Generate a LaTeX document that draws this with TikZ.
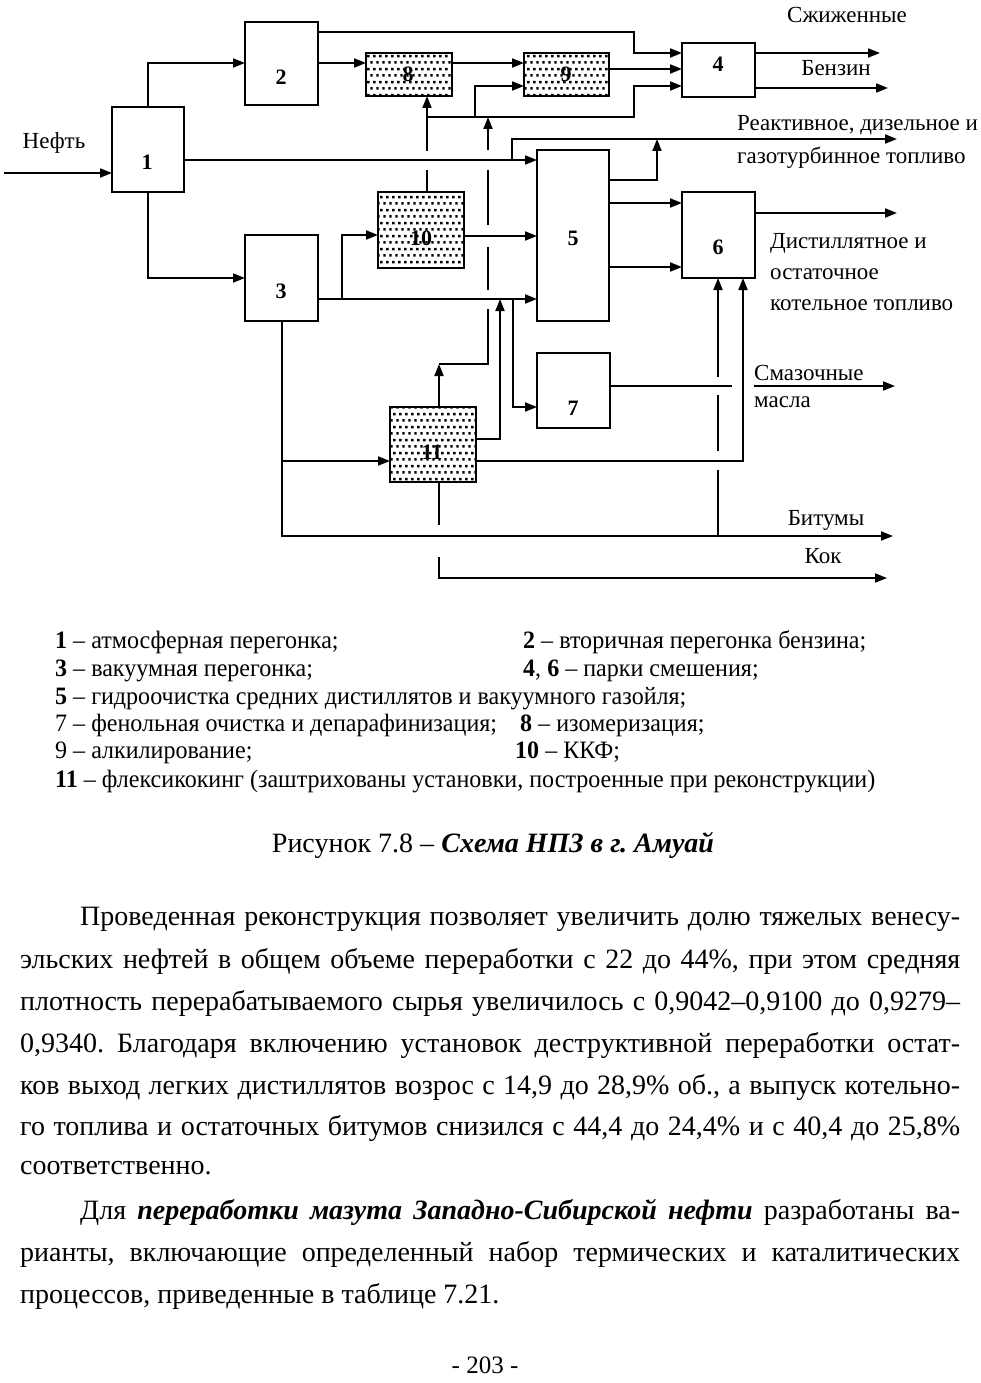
\documentclass[tikz,border=0pt]{standalone}
\usepackage{fontspec}
\setmainfont{Liberation Serif}
\newfontfamily\narrowserif[FakeStretch=0.962]{Liberation Serif}
\usetikzlibrary{arrows.meta,patterns}
\pgfdeclarepatternformonly{dotgrid}{\pgfpoint{0pt}{0pt}}{\pgfpoint{6.4pt}{12.8pt}}{\pgfpoint{6.4pt}{12.8pt}}{%
  \pgfpathrectangle{\pgfpoint{0.3pt}{0.3pt}}{\pgfpoint{2.5pt}{2.5pt}}%
  \pgfpathrectangle{\pgfpoint{3.5pt}{6.7pt}}{\pgfpoint{2.5pt}{2.5pt}}%
  \pgfusepath{fill}}
\tikzset{
  box/.style={draw, line width=1.8pt, inner sep=0pt, outer sep=0pt},
  sz/.style 2 args={minimum width=#1pt, minimum height=#2pt},
  dotted box/.style={box, pattern=dotgrid},
  ln/.style={line width=1.8pt},
  thinln/.style={line width=1.2pt},
  arr/.style={ln, -{Triangle[length=12pt,width=9pt]}},
  num/.style={font=\bfseries\fontsize{22}{22}\selectfont, inner sep=0pt},
  lbl/.style={font=\fontsize{23}{23}\selectfont, inner sep=0pt, anchor=west},
  lbc/.style={font=\fontsize{23}{23}\selectfont, inner sep=0pt},
  leg/.style={font=\narrowserif\fontsize{25}{25}\selectfont, inner sep=0pt, anchor=base west},
  bodyline/.style={font=\fontsize{28}{28}\selectfont, inner sep=0pt, anchor=base west},
}
\frenchspacing
\begin{document}
\begin{tikzpicture}[x=1pt,y=-1pt]
\useasboundingbox (0,0) rectangle (980,1383);
% boxes
\node[box, sz={72}{85}]  (b1) at (148,149.5) {};
\node[box, sz={73}{83}]  (b2) at (281.5,63.5) {};
\node[box, sz={73}{86}]  (b3) at (281.5,278) {};
\node[box, sz={73}{54}]  (b4) at (718.5,70) {};
\node[box, sz={72}{171}] (b5) at (573,235.5) {};
\node[box, sz={73}{86}]  (b6) at (718.5,235) {};
\node[box, sz={73}{75}]  (b7) at (573.5,390.5) {};
\node[dotted box, sz={86}{43}] (b8) at (409,74.5) {};
\node[dotted box, sz={85}{43}] (b9) at (566.5,74.5) {};
\node[dotted box, sz={86}{76}] (b10) at (421,230) {};
\node[dotted box, sz={86}{75}] (b11) at (433,444.5) {};
% numbers
\node[num] (n1) at (147,162) {1};
\node[num] (n2) at (281,77) {2};
\node[num] (n3) at (281,291) {3};
\node[num] (n4) at (718,64) {4};
\node[num] (n5) at (573,238) {5};
\node[num] (n6) at (718,247) {6};
\node[num] (n7) at (573,408) {7};
\node[num] (n8) at (408,74) {8};
\node[num] (n9) at (566,74) {9};
\node[num] (n10) at (421,238) {10};
\node[num] (n11) at (432,452) {11};
% free ends
\coordinate (neft) at (4,173);
\coordinate (oreakt) at (897,139);
\coordinate (ogas) at (880,53);
\coordinate (obenz) at (888,88);
\coordinate (odist) at (897,213);
\coordinate (olube) at (895,386);
\coordinate (obit) at (893,536);
\coordinate (okok) at (887,578);
% connectors
\draw[arr] (neft) -- (neft -| b1.west);
\draw[arr] (b1.north) |- (b2.west |- 0,63);
\draw[arr] (b1.south) |- (b3.west);
\draw[arr] (b1.east |- 0,160) -- (b5.west |- 0,160);
\draw[arr] (512,160) |- (oreakt);
\draw[arr] (b5.east |- 0,180) -| (657,139);
\draw[arr] (b5.east |- 0,203) -- (b6.west |- 0,203);
\draw[arr] (b5.east |- 0,267) -- (b6.west |- 0,267);
\draw[arr] (b6.east |- 0,213) -- (odist);
\draw[arr] (b4.east |- 0,53) -- (ogas);
\draw[arr] (b4.east |- 0,88) -- (obenz);
\draw[arr] (b2.east |- 0,32) -- (634,32) |- (b4.west |- 0,53);
\draw[arr] (b2.east |- 0,63) -- (b8.west |- 0,63);
\draw[arr] (b8.east |- 0,63) -- (b9.west |- 0,63);
\draw[arr] (b9.east |- 0,69) -- (b4.west |- 0,69);
\draw[arr] (427,117) -- (634,117) |- (b4.west |- 0,86);
\draw[ln] (427,0 |- b10.north) -- (427,170);
\draw[arr] (427,151) -- (427,0 |- b8.south);
\draw[arr] (475,117) |- (b9.west |- 0,86);
% line from 11 upwards with crossing gaps
\draw[arr] (439,0 |- b11.north) -- (439,364);
\draw[ln] (439,364) -- (488,364) -- (488,309);
\draw[ln] (488,290) -- (488,247);
\draw[ln] (488,225) -- (488,170);
\draw[arr] (488,150) -- (488,117);
% from 3
\draw[arr] (b3.east |- 0,299) -- (b5.west |- 0,299);
\draw[arr] (342,299) |- (b10.west |- 0,235);
\draw[arr] (b10.east |- 0,236) -- (b5.west |- 0,236);
\draw[arr] (282,0 |- b3.south) |- (obit);
\draw[arr] (282,461) -- (b11.west |- 0,461);
\draw[arr] (b11.east |- 0,439) -| (500,299);
\draw[arr] (513,299) |- (b7.west |- 0,407);
\draw[ln] (b7.east |- 0,386) -- (732,386);
\draw[arr] (754,386) -- (olube);
\draw[arr] (b11.east |- 0,461) -| (743,0 |- b6.south);
\draw[thinln] (718,536) -- (718,470);
\draw[ln] (718,451) -- (718,395);
\draw[arr] (718,377) -- (718,0 |- b6.south);
\draw[thinln] (439,0 |- b11.south) -- (439,525);
\draw[arr] (439,557) |- (okok);
% labels
\node[lbc] (tneft) at (54,143) {Нефть};
\node[lbc] (tgas) at (847,15) {Сжиженные};
\node[lbc] (tbenz) at (836,68) {Бензин};
\node[lbl] (tr1) at (737,125) {Реактивное, дизельное и};
\node[lbl] (tr2) at (737,158) {газотурбинное топливо};
\node[lbl] (td1) at (770,243) {Дистиллятное и};
\node[lbl] (td2) at (770,274) {остаточное};
\node[lbl] (td3) at (770,305) {котельное топливо};
\node[lbl] (tl1) at (754,373) {Смазочные};
\node[lbl] (tl2) at (754,402) {масла};
\node[lbc] (tbit) at (826,520) {Битумы};
\node[lbc] (tkok) at (823,556) {Кок};
% legend
\node[leg] (g1) at (55,648) {\textbf{1} – атмосферная перегонка;};
\node[leg] (g2) at (523,648) {\textbf{2} – вторичная перегонка бензина;};
\node[leg] (g3) at (55,676) {\textbf{3} – вакуумная перегонка;};
\node[leg] (g4) at (523,676) {\textbf{4}, \textbf{6} – парки смешения;};
\node[leg] (g5) at (55,704) {\textbf{5} – гидроочистка средних дистиллятов и вакуумного газойля;};
\node[leg] (g7) at (55,731) {7 – фенольная очистка и депарафинизация;};
\node[leg] (g8) at (520,731) {\textbf{8} – изомеризация;};
\node[leg] (g9) at (55,758) {9 – алкилирование;};
\node[leg] (g10) at (515,758) {\textbf{10} – ККФ;};
\node[leg] (g11) at (55,787) {\textbf{11} – флексикокинг (заштрихованы установки, построенные при реконструкции)};
% caption
\node[font=\fontsize{28}{28}\selectfont, inner sep=0pt, anchor=base] (cap) at (493,852) {Рисунок 7.8 – \textbf{\textit{Схема НПЗ в г. Амуай}}};
% body text
\node[bodyline] (p1) at (80,925) {\makebox[880pt][s]{Проведенная реконструкция позволяет увеличить долю тяжелых венесу-}};
\node[bodyline] (p2) at (20,968) {\makebox[940pt][s]{эльских нефтей в общем объеме переработки с 22 до 44\%, при этом средняя}};
\node[bodyline] (p3) at (20,1010) {\makebox[940pt][s]{плотность перерабатываемого сырья увеличилось с 0,9042–0,9100 до 0,9279–}};
\node[bodyline] (p4) at (20,1052) {\makebox[940pt][s]{0,9340. Благодаря включению установок деструктивной переработки остат-}};
\node[bodyline] (p5) at (20,1094) {\makebox[940pt][s]{ков выход легких дистиллятов возрос с 14,9 до 28,9\% об., а выпуск котельно-}};
\node[bodyline] (p6) at (20,1135) {\makebox[940pt][s]{го топлива и остаточных битумов снизился с 44,4 до 24,4\% и с 40,4 до 25,8\%}};
\node[bodyline] (p7) at (20,1174) {соответственно.};
\node[bodyline] (p8) at (80,1219) {\makebox[880pt][s]{Для \textbf{\textit{переработки мазута Западно-Сибирской нефти}} разработаны ва-}};
\node[bodyline] (p9) at (20,1261) {\makebox[940pt][s]{рианты, включающие определенный набор термических и каталитических}};
\node[bodyline] (p10) at (20,1303) {процессов, приведенные в таблице 7.21.};
\node[font=\fontsize{25}{25}\selectfont, inner sep=0pt, anchor=base] (pg) at (485,1373) {- 203 -};
\end{tikzpicture}
\end{document}
